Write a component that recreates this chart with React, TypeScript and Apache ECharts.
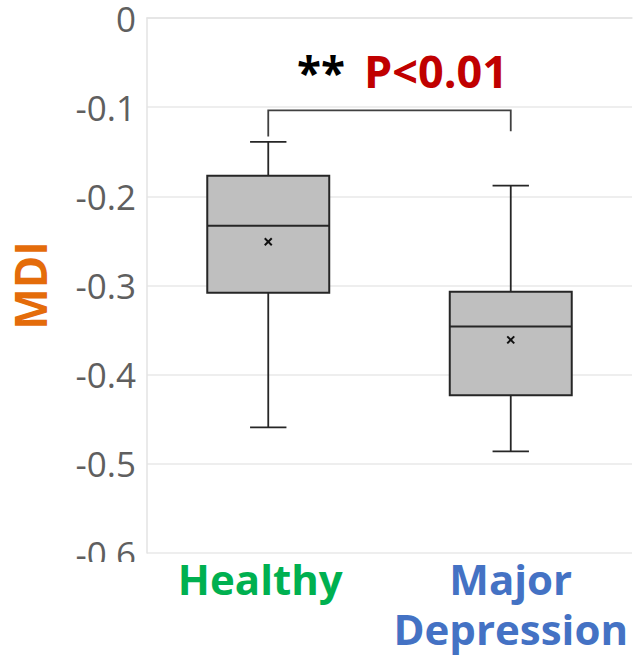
import React, { useEffect, useRef } from "react";
import * as echarts from "echarts";

const categories = ["Healthy", "Major Depression"];
const minValues = [-0.459, -0.486];
const q1Values = [-0.308, -0.423];
const medianValues = [-0.233, -0.346];
const q3Values = [-0.177, -0.307];
const maxValues = [-0.139, -0.188];
const meanValues = [-0.251, -0.361];
const bracketLevel = -0.1036;
const bracketEnds = [-0.133, -0.127];
const starsText = "**";
const pText = "P<0.01";

export default function App() {
  const ref = useRef<HTMLDivElement>(null);
  useEffect(() => {
    if (!ref.current) return;
    const chart = echarts.init(ref.current, null, { renderer: "svg" });
    const boxData = categories.map((_, i) => [
      i,
      minValues[i],
      q1Values[i],
      medianValues[i],
      q3Values[i],
      maxValues[i],
      meanValues[i],
    ]);
    const stroke = "#262626";
    const option = {
      animation: false,
      grid: { left: 143, right: 8, top: 18, bottom: 103, containLabel: false },
      xAxis: {
        type: "category",
        data: categories,
        axisTick: { show: false },
        axisLine: { show: true, lineStyle: { color: "#e3e3e3", width: 1.5 } },
        axisLabel: {
          margin: 0,
          interval: 0,
          formatter: (v: string, i: number) =>
            i === 0 ? `{h|${v}}` : v.split(" ").map((w) => `{m|${w}}`).join("\n"),
          rich: {
            h: { color: "#00B050", fontSize: 42, fontWeight: "bold", fontFamily: "Open Sans", lineHeight: 50, padding: [0, 16, 0, 0] },
            m: { color: "#4472C4", fontSize: 42, fontWeight: "bold", fontFamily: "Open Sans", lineHeight: 50 },
          },
        },
      },
      yAxis: {
        type: "value",
        min: -0.6,
        max: 0,
        interval: 0.1,
        name: "MDI",
        nameLocation: "middle",
        nameGap: 95,
        nameTextStyle: { color: "#E46C0A", fontSize: 44, fontWeight: "bold", fontFamily: "Open Sans" },
        axisLine: { show: true, lineStyle: { color: "#e3e3e3", width: 1.5 } },
        axisTick: { show: false },
        splitLine: { lineStyle: { color: "#e8e8e8", width: 1.5 } },
        axisLabel: {
          color: "#5f5f5f",
          fontSize: 35,
          fontFamily: "Open Sans",
          margin: 11,
          formatter: (v: number) => (Math.abs(v) < 1e-9 ? "0" : v.toFixed(1)),
        },
      },
      series: [
        {
          type: "custom",
          data: boxData,
          encode: { x: 0, y: [1, 2, 3, 4, 5, 6] },
          renderItem: (params: any, api: any) => {
            const x = api.value(0);
            const band = api.size([1, 0])[0];
            const boxW = band * 0.503;
            const capW = band * 0.15;
            const pMin = api.coord([x, api.value(1)]);
            const pQ1 = api.coord([x, api.value(2)]);
            const pMed = api.coord([x, api.value(3)]);
            const pQ3 = api.coord([x, api.value(4)]);
            const pMax = api.coord([x, api.value(5)]);
            const pMean = api.coord([x, api.value(6)]);
            const cx = pMed[0];
            const lw = { stroke, lineWidth: 1.8 };
            const m = 3.5;
            return {
              type: "group",
              children: [
                { type: "line", shape: { x1: cx, y1: pQ3[1], x2: cx, y2: pMax[1] }, style: lw },
                { type: "line", shape: { x1: cx, y1: pQ1[1], x2: cx, y2: pMin[1] }, style: lw },
                { type: "line", shape: { x1: cx - capW / 2, y1: pMax[1], x2: cx + capW / 2, y2: pMax[1] }, style: lw },
                { type: "line", shape: { x1: cx - capW / 2, y1: pMin[1], x2: cx + capW / 2, y2: pMin[1] }, style: lw },
                {
                  type: "rect",
                  shape: { x: cx - boxW / 2, y: pQ3[1], width: boxW, height: pQ1[1] - pQ3[1] },
                  style: { fill: "#BFBFBF", stroke, lineWidth: 2 },
                },
                { type: "line", shape: { x1: cx - boxW / 2, y1: pMed[1], x2: cx + boxW / 2, y2: pMed[1] }, style: { stroke, lineWidth: 2 } },
                { type: "line", shape: { x1: pMean[0] - m, y1: pMean[1] - m, x2: pMean[0] + m, y2: pMean[1] + m }, style: { stroke: "#111", lineWidth: 2 } },
                { type: "line", shape: { x1: pMean[0] - m, y1: pMean[1] + m, x2: pMean[0] + m, y2: pMean[1] - m }, style: { stroke: "#111", lineWidth: 2 } },
              ],
            };
          },
        },
        {
          type: "custom",
          data: [[0, 1, bracketLevel, bracketEnds[0], bracketEnds[1]]],
          encode: { x: [0, 1], y: [2, 3, 4] },
          renderItem: (params: any, api: any) => {
            const a = api.coord([api.value(0), api.value(3)]);
            const b = api.coord([api.value(0), api.value(2)]);
            const c = api.coord([api.value(1), api.value(2)]);
            const d = api.coord([api.value(1), api.value(4)]);
            return {
              type: "polyline",
              shape: { points: [a, b, c, d] },
              style: { stroke: "#404040", lineWidth: 1.8, fill: "none" },
            };
          },
        },
      ],
      graphic: [
        {
          type: "rect",
          z: 100,
          shape: { x: 40, y: 562, width: 101, height: 40 },
          style: { fill: "#ffffff" },
        },
        {
          type: "text",
          z: 100,
          x: 297,
          y: 72,
          style: {
            text: starsText,
            fill: "#000000",
            fontSize: 44,
            fontWeight: "bold",
            fontFamily: "Open Sans",
            verticalAlign: "middle",
            textAlign: "left",
          },
        },
        {
          type: "text",
          z: 100,
          x: 364,
          y: 70,
          style: {
            text: pText,
            fill: "#C00000",
            fontSize: 45,
            fontWeight: "bold",
            fontFamily: "Open Sans",
            verticalAlign: "middle",
            textAlign: "left",
          },
        },
      ],
    };
    chart.setOption(option as any);
    return () => chart.dispose();
  }, []);
  return <div ref={ref} style={{ position: "absolute", left: 0, top: 0, width: 640, height: 656 }} />;
}
